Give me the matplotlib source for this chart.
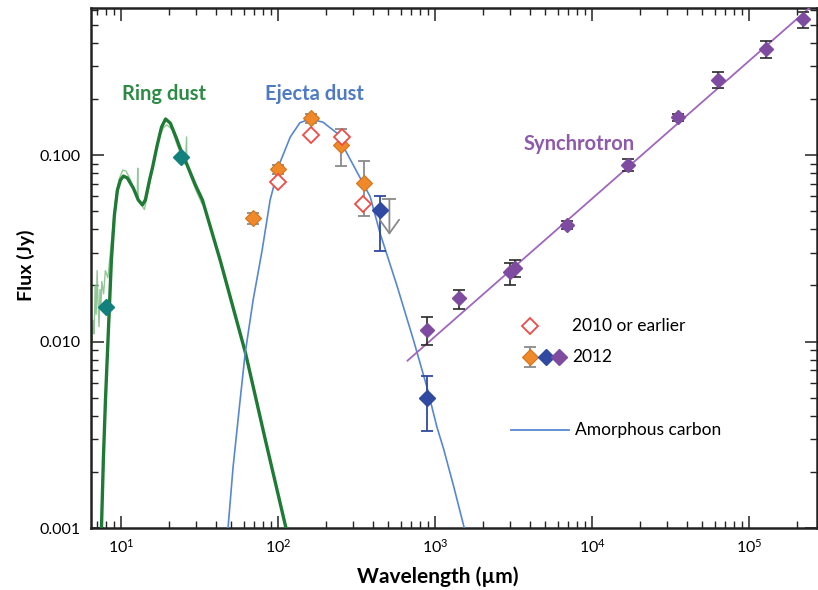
"""
Spectral energy distribution of the remnant: ring dust, ejecta dust and
synchrotron emission, log-log flux vs wavelength.
"""
import matplotlib

matplotlib.use("Agg")
import matplotlib.pyplot as plt
from matplotlib.ticker import FixedLocator, LogLocator, NullFormatter

plt.rcParams.update({
    "font.family": ["Lato", "DejaVu Sans"],
    "mathtext.fontset": "custom",
    "mathtext.rm": "Lato",
    "mathtext.it": "Lato:italic",
    "mathtext.bf": "Lato:bold",
    "font.size": 11,
    "xtick.direction": "in",
    "ytick.direction": "in",
    "xtick.top": True,
    "ytick.right": True,
})

# colours
C_RING = "#1f7a35"
C_RING_LABEL = "#2e8b45"
C_SPEC = "#7fbf86"
C_TEAL = "#12807c"
C_EJ = "#5787d2"
C_EJ_LABEL = "#4f7ac4"
C_ORANGE = "#f0892a"
C_RED = "#ee4b46"
C_DBLUE = "#2f4aa0"
C_PURPLE = "#7e4ba0"
C_SYNC = "#a066bb"
C_SYNC_LABEL = "#8e5aaa"
C_GRAYERR = "#8a8a8a"

# ---------------------------------------------------------------------------
# Data (wavelength in micron, flux in Jy)
# ---------------------------------------------------------------------------
# ring dust model
RING_FIT_WL = [7.46, 7.67, 7.91, 8.26, 8.63, 9.02, 9.43, 9.86, 10.3, 10.9,
               11.9, 12.8, 13.6, 14.2, 15.1, 15.8, 16.9, 18.0, 19.1, 20.5,
               22.4, 24.1, 25.9, 29.6, 32.8, 42.7, 61.7, 82.6, 112]
RING_FIT_FLUX = [0.001, 0.00232, 0.00485, 0.0115, 0.0274, 0.0477, 0.0649,
                 0.0735, 0.0771, 0.0753, 0.0665, 0.0574, 0.054, 0.0574,
                 0.0735, 0.0862, 0.113, 0.141, 0.156, 0.148, 0.123, 0.104,
                 0.0906, 0.069, 0.0574, 0.027, 0.00867, 0.00296, 0.00099]
# ring IR spectrum (thin, noisy)
SPEC_WL = [6.5, 6.6, 6.7, 6.8, 6.9, 7.0, 7.1, 7.2, 7.3, 7.4, 7.5, 7.7, 7.9,
           8.2, 8.5, 8.9, 9.3, 9.7, 10.2, 10.7, 11.3, 12.0, 12.6, 12.7,
           12.8, 13.4, 14.0, 14.8, 15.6, 16.5, 17.5, 18.5, 19.5, 21.0, 22.4,
           24.1, 25.5, 26.0, 26.1, 26.5, 28.0, 30.0, 32.5]
SPEC_FLUX = [0.010, 0.013, 0.011, 0.020, 0.014, 0.024, 0.016, 0.012, 0.019,
             0.015, 0.021, 0.018, 0.024, 0.022, 0.030, 0.045, 0.064, 0.075,
             0.083, 0.082, 0.075, 0.066, 0.060, 0.085, 0.058, 0.054, 0.051,
             0.064, 0.080, 0.102, 0.126, 0.140, 0.145, 0.137, 0.116, 0.099,
             0.089, 0.125, 0.087, 0.084, 0.074, 0.064, 0.055]
RING_WL = [7.95, 23.9]
RING_FLUX = [0.0154, 0.098]

# ejecta dust model (amorphous carbon)
EJ_WL = [47.5, 51.4, 57.0, 61.4, 69.0, 78.8, 88.5, 102, 119, 137, 159, 192,
         236, 259, 286, 384, 444, 568, 724, 881, 1021, 1125, 1300, 1550]
EJ_FLUX = [0.00095, 0.00212, 0.00485, 0.00867, 0.0167, 0.031, 0.0574,
           0.0906, 0.125, 0.149, 0.156, 0.150, 0.131, 0.111, 0.095, 0.0598,
           0.038, 0.0200, 0.0102, 0.00573, 0.00349, 0.00267, 0.0017, 0.00095]

# 2012 (orange)
OR_WL = [69.0, 99.1, 161, 251, 352]
OR_FLUX = [0.0460, 0.0838, 0.157, 0.113, 0.0705]
OR_LO = [0.0427, 0.0791, 0.148, 0.0873, 0.0471]
OR_HI = [0.0491, 0.0884, 0.166, 0.138, 0.0932]
# 2010 or earlier
RED_WL = [100, 161, 253, 348]
RED_FLUX = [0.072, 0.128, 0.125, 0.0546]
# 2012 (dark blue)
DB_WL = [444, 881]
DB_FLUX = [0.0507, 0.00495]
DB_LO = [0.0306, 0.00331]
DB_HI = [0.0603, 0.0065]
# upper limit
UL_WL = 509
UL_FLUX = 0.0583
UL_TIP = 0.0373

# synchrotron (purple)
SY_WL = [881, 1422, 2990, 3220, 6870, 16900, 35300, 63500, 128000, 219000]
SY_FLUX = [0.0115, 0.0171, 0.0237, 0.0247, 0.0422, 0.0884, 0.159, 0.252,
           0.370, 0.534]
SY_LO = [0.0096, 0.0150, 0.0201, 0.0221, 0.0402, 0.0821, 0.152, 0.228,
         0.330, 0.481]
SY_HI = [0.0135, 0.0189, 0.0265, 0.0274, 0.0443, 0.0948, 0.166, 0.279,
         0.410, 0.587]
SY_FIT_WL = [664, 260000]
SY_FIT_FLUX = [0.0079, 0.65]


def yerr(vals, lo, hi):
    return [[v - l for v, l in zip(vals, lo)], [h - v for v, h in zip(vals, hi)]]


fig = plt.figure(figsize=(8.18, 5.90), dpi=100)
ax = fig.add_axes([0.111, 0.105, 0.888, 0.881])
ax.set_xscale("log")
ax.set_yscale("log")
ax.set_xlim(6.38, 2.7e5)
ax.set_ylim(0.001, 0.612)

# model curves
ax.plot(SPEC_WL, SPEC_FLUX, color=C_SPEC, lw=1.0, alpha=0.85, zorder=2)
ax.plot(RING_FIT_WL, RING_FIT_FLUX, color=C_RING, lw=2.4, zorder=3)
ax.plot(EJ_WL, EJ_FLUX, color=C_EJ, lw=1.2, zorder=3)
ax.plot(SY_FIT_WL, SY_FIT_FLUX, color=C_SYNC, lw=1.3, zorder=3)

mk = dict(marker="D", ls="none", ms=8.5, zorder=5)
# ring photometry
ax.plot(RING_WL, RING_FLUX, color=C_TEAL, mec=C_TEAL, **mk)

# ejecta photometry
ax.errorbar(OR_WL, OR_FLUX, yerr=yerr(OR_FLUX, OR_LO, OR_HI), fmt="none",
            ecolor=C_GRAYERR, elinewidth=1.3, capsize=4.5, capthick=1.3,
            zorder=4)
ax.plot(OR_WL, OR_FLUX, color=C_ORANGE, mec="#d0751e", mew=0.8, **mk)
ax.plot(RED_WL, RED_FLUX, marker="D", ls="none", ms=8, mfc="white",
        mec=C_RED, mew=1.3, zorder=6)
ax.errorbar(DB_WL, DB_FLUX, yerr=yerr(DB_FLUX, DB_LO, DB_HI), fmt="none",
            ecolor=C_DBLUE, elinewidth=1.3, capsize=4.5, capthick=1.3,
            zorder=4)
ax.plot(DB_WL, DB_FLUX, color=C_DBLUE, mec=C_DBLUE, **mk)
# upper limit
ax.plot([UL_WL], [UL_FLUX], marker="_", ms=10, mew=1.3, color=C_GRAYERR,
        zorder=4)
ax.annotate("", xy=(UL_WL, UL_TIP), xytext=(UL_WL, UL_FLUX),
            arrowprops=dict(arrowstyle="->,head_length=0.7,head_width=0.5",
                            color=C_GRAYERR, lw=1.3, shrinkA=0, shrinkB=0,
                            mutation_scale=14),
            zorder=4)

# synchrotron photometry
ax.errorbar(SY_WL, SY_FLUX, yerr=yerr(SY_FLUX, SY_LO, SY_HI), fmt="none",
            ecolor="#2a2a2a", elinewidth=1.2, capsize=4.5, capthick=1.2,
            zorder=4)
ax.plot(SY_WL, SY_FLUX, color=C_PURPLE, mec=C_PURPLE, marker="D", ls="none",
        ms=7.5, zorder=5)

# component labels
ax.text(18.6, 0.212, "Ring dust", color=C_RING_LABEL, fontsize=14.5,
        fontweight="bold", ha="center", va="center")
ax.text(170, 0.212, "Ejecta dust", color=C_EJ_LABEL, fontsize=14.5,
        fontweight="bold", ha="center", va="center")
ax.text(8200, 0.115, "Synchrotron", color=C_SYNC_LABEL, fontsize=14.5,
        fontweight="bold", ha="center", va="center")

# legend (hand-placed, uneven row spacing as in the original)
tr = ax.transAxes
ax.plot([0.605], [0.389], transform=tr, marker="D", ms=8, mfc="white",
        mec=C_RED, mew=1.3, clip_on=False)
ax.text(0.663, 0.389, "2010 or earlier", transform=tr, va="center",
        fontsize=12.5)
ax.errorbar([0.605], [0.329], yerr=[0.0195], transform=tr, fmt="none",
            ecolor=C_GRAYERR, elinewidth=1.3, capsize=4.5, capthick=1.3)
ax.plot([0.605], [0.329], transform=tr, color=C_ORANGE, mec="#d0751e",
        mew=0.8, marker="D", ms=8.5)
ax.plot([0.626], [0.329], transform=tr, color=C_DBLUE, marker="D", ms=8.5)
ax.plot([0.645], [0.329], transform=tr, color=C_PURPLE, marker="D", ms=8.5)
ax.text(0.663, 0.329, "2012", transform=tr, va="center", fontsize=12.5)
ax.plot([0.578, 0.658], [0.189, 0.189], transform=tr, color=C_EJ, lw=1.3)
ax.text(0.666, 0.189, "Amorphous carbon", transform=tr, va="center",
        fontsize=12.5)

# axes styling
ax.yaxis.set_major_locator(FixedLocator([0.001, 0.01, 0.1]))
ax.set_yticklabels(["0.001", "0.010", "0.100"])
ax.yaxis.set_minor_locator(LogLocator(base=10, subs=range(2, 10)))
ax.yaxis.set_minor_formatter(NullFormatter())
ax.xaxis.set_major_locator(LogLocator(base=10, numticks=10))
ax.xaxis.set_minor_locator(LogLocator(base=10, subs=range(2, 10), numticks=20))
ax.xaxis.set_minor_formatter(NullFormatter())
ax.tick_params(which="major", length=9, width=1.1, labelsize=11.5, pad=7,
               color="#222222")
ax.tick_params(which="minor", length=5, width=1.0, color="#222222")
for sp in ax.spines.values():
    sp.set_linewidth(1.8)
    sp.set_color("#222222")

ax.set_xlabel("Wavelength (µm)", fontsize=15, fontweight="bold")
ax.set_ylabel("Flux (Jy)", fontsize=14, fontweight="bold")
ax.xaxis.set_label_coords(0.478, -0.074)
ax.yaxis.set_label_coords(-0.077, 0.506)

fig.savefig("out.png", dpi=100)
